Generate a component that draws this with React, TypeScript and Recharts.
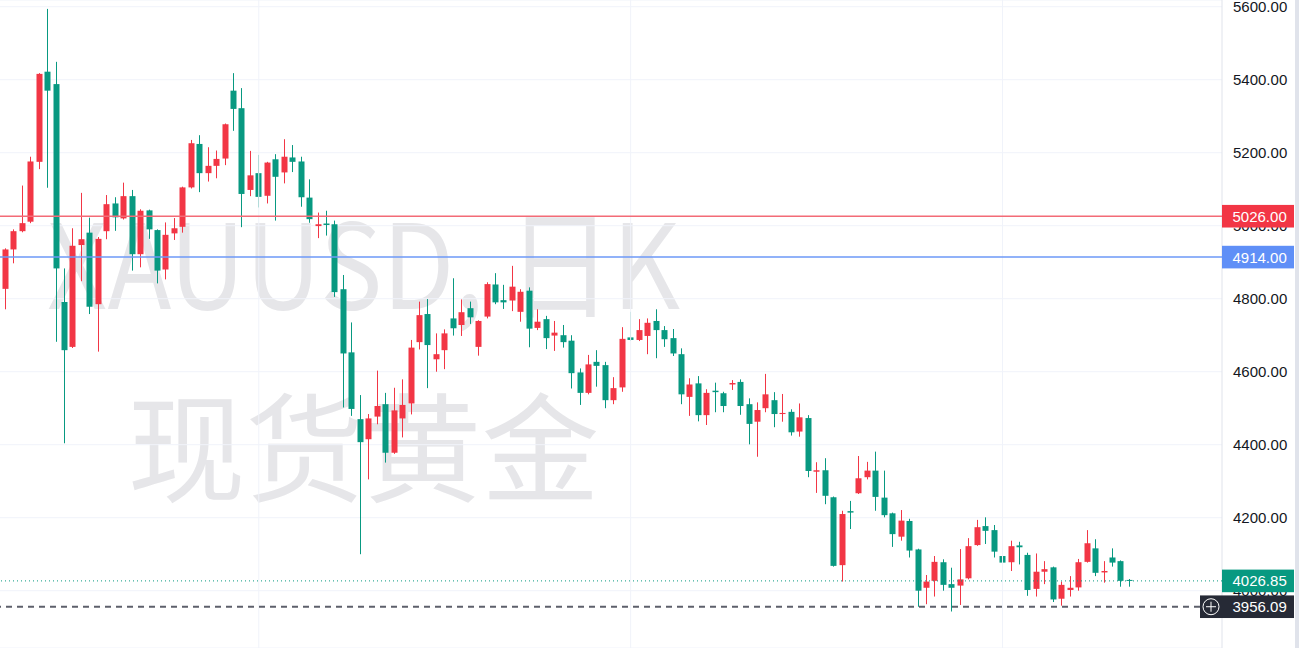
import React from 'react';
import { ComposedChart, Bar, XAxis, YAxis, CartesianGrid, ReferenceLine } from 'recharts';

// Daily candles, XAUUSD (现货黄金), oldest → newest
const OPEN = [
  4827, 4935, 4985, 5011, 5175, 5422, 5388, 4791, 4668, 4947,
  4981, 4785, 4985, 5061, 5020, 5081, 4922, 5042, 4988, 4880,
  4979, 4997, 5105, 5224, 5144, 5164, 5184, 5370, 5322, 5098,
  5144, 5082, 5182, 5146, 5187, 5176, 5077, 4999, 5006, 5004,
  4826, 4653, 4470, 4415, 4477, 4511, 4378, 4472, 4513, 4681,
  4758, 4634, 4659, 4746, 4728, 4774, 4668, 4751, 4839, 4796,
  4795, 4764, 4822, 4720, 4744, 4699, 4700, 4685, 4598, 4542,
  4627, 4618, 4522, 4557, 4694, 4687, 4698, 4739, 4714, 4692,
  4648, 4531, 4568, 4481, 4548, 4541, 4565, 4572, 4511, 4463,
  4500, 4522, 4484, 4490, 4436, 4473, 4326, 4330, 4256, 4070,
  4218, 4267, 4311, 4329, 4255, 4212, 4148, 4191, 4113, 4008,
  4027, 4078, 4018, 4014, 4034, 4125, 4177, 4166, 4095, 4078,
  4124, 4098, 4005, 4052, 4064, 3978, 4002, 4009, 4079, 4116,
  4050, 4091, 4081, 4029.5,
];
const HIGH = [
  4938, 4990, 5110, 5189, 5418, 5594, 5449, 4883, 4993, 5090,
  5022, 4969, 5084, 5078, 5118, 5098, 5045, 5044, 4990, 5009,
  5021, 5107, 5235, 5248, 5215, 5206, 5280, 5418, 5377, 5205,
  5194, 5175, 5196, 5237, 5221, 5189, 5127, 5036, 5041, 5014,
  4865, 4735, 4536, 4484, 4603, 4542, 4556, 4579, 4687, 4792,
  4799, 4705, 4716, 4856, 4798, 4792, 4741, 4845, 4870, 4838,
  4890, 4826, 4831, 4771, 4753, 4739, 4728, 4700, 4609, 4646,
  4659, 4627, 4585, 4722, 4764, 4744, 4746, 4771, 4725, 4717,
  4664, 4582, 4588, 4552, 4570, 4545, 4577, 4579, 4527, 4516,
  4594, 4544, 4539, 4497, 4513, 4481, 4352, 4363, 4258, 4219,
  4246, 4369, 4353, 4381, 4329, 4214, 4221, 4197, 4115, 4043,
  4095, 4086, 4063, 4114, 4144, 4194, 4201, 4180, 4131, 4137,
  4134, 4104, 4102, 4081, 4066, 4025, 4040, 4087, 4166, 4141,
  4081, 4116, 4083, 4032,
];
const LOW = [
  4771, 4897, 4982, 5007, 5155, 5104, 4682, 4404, 4665, 4848,
  4758, 4655, 4963, 4986, 5017, 4877, 4886, 4964, 4842, 4853,
  4961, 4981, 5102, 5092, 5121, 5130, 5166, 5260, 4996, 5081,
  5050, 5061, 5014, 5116, 5147, 5052, 5008, 4966, 4973, 4805,
  4502, 4479, 4100, 4305, 4456, 4351, 4375, 4420, 4483, 4661,
  4555, 4600, 4607, 4699, 4698, 4731, 4644, 4746, 4785, 4772,
  4766, 4737, 4667, 4714, 4662, 4657, 4666, 4554, 4509, 4538,
  4559, 4500, 4511, 4545, 4684, 4684, 4648, 4637, 4668, 4643,
  4511, 4479, 4464, 4454, 4489, 4489, 4550, 4482, 4401, 4367,
  4489, 4448, 4463, 4425, 4422, 4311, 4268, 4237, 4066, 4025,
  4169, 4265, 4305, 4219, 4201, 4120, 4137, 4091, 3956.09, 3963,
  3984, 4000, 3943, 3961, 4031, 4123, 4128, 4091, 4022, 4054,
  4072, 3986, 3984, 4018, 3969, 3959, 3984, 4000, 4077, 4040,
  4022, 4066, 4011, 4011,
];
const CLOSE = [
  4935, 4985, 5007, 5176, 5416, 5370, 4883, 4659, 4945, 4963,
  4778, 4964, 5059, 5023, 5081, 4922, 5041, 4990, 4877, 4975,
  4993, 5105, 5226, 5144, 5164, 5183, 5278, 5320, 5087, 5138,
  5079, 5173, 5134, 5189, 5175, 5078, 5018, 5004, 5002, 4818,
  4650, 4498, 4407, 4472, 4506, 4378, 4494, 4509, 4666, 4755,
  4673, 4648, 4705, 4719, 4763, 4749, 4739, 4840, 4790, 4790,
  4833, 4819, 4718, 4737, 4692, 4707, 4681, 4596, 4542, 4620,
  4616, 4522, 4555, 4690, 4687, 4714, 4734, 4714, 4689, 4650,
  4538, 4565, 4481, 4542, 4544, 4506, 4569, 4506, 4457, 4495,
  4538, 4484, 4487, 4434, 4475, 4328, 4330, 4260, 4068, 4210,
  4214, 4308, 4329, 4257, 4207, 4155, 4192, 4110, 4000, 4025,
  4079, 4016, 4008, 4031, 4122, 4174, 4164, 4107, 4077, 4122,
  4119, 4002, 4052, 4059, 3976, 4016, 4008, 4078, 4130, 4049,
  4054, 4077, 4027, 4026.85,
];

const EMPTY_SLOTS = 10; // right-hand blank space
const Y_TICKS = [4000, 4200, 4400, 4600, 4800, 5000, 5200, 5400, 5600];
const Y_DOMAIN: [number, number] = [3843, 5618.4];
const MONTH_MARKS = [30, 74, 118];

const LINE_RED = 5026;
const LINE_BLUE = 4914;
const LAST_PRICE = 4026.85;
const LOW_MARK = 3956.09;

const WATERMARK_1 = 'XAUUSD, 日K';
const WATERMARK_2 = '现货黄金';

const UP = '#f23645';
const DOWN = '#089981';

const data = [
  ...OPEN.map((o, i) => ({
    i,
    open: o,
    high: HIGH[i],
    low: LOW[i],
    close: CLOSE[i],
    range: [LOW[i], HIGH[i]],
  })),
  ...Array.from({ length: EMPTY_SLOTS }, (_, k) => ({ i: OPEN.length + k })),
];

const FONT = '"Liberation Sans", Arial, sans-serif';
const CHART_W = 1295;
const CHART_H = 648;
const AXIS_W = 73;
const MARGIN = { top: 0, right: 0, bottom: 0, left: 0 };

const Candle = (props: any) => {
  const { x, width, y, height, payload } = props;
  if (!payload || payload.range == null || !(height > 0)) return null;
  const { open, close, high, low } = payload;
  const color = close >= open ? UP : DOWN;
  const k = height / (high - low);
  const yOf = (v: number) => y + (high - v) * k;
  const cx = Math.round(x + width / 2 - 0.5);
  const top = yOf(Math.max(open, close));
  const bot = yOf(Math.min(open, close));
  return (
    <g>
      <rect x={cx} y={y} width={1} height={height} fill={color} />
      <rect x={cx - 2.5} y={top} width={6} height={Math.max(1, bot - top)} fill={color} />
    </g>
  );
};

const Tick = (props: any) => {
  const { y, payload } = props;
  return (
    <text x={1233} y={y + 5.5} fill="#131722" fontSize={15} fontFamily={FONT} textAnchor="start">
      {Number(payload.value).toFixed(2)}
    </text>
  );
};

const PriceTag = (props: any) => {
  const { viewBox, text, bg, icon } = props;
  if (!viewBox) return null;
  const x = viewBox.x + viewBox.width;
  const y = viewBox.y;
  return (
    <g>
      {icon && (
        <g>
          <rect x={x - 22} y={y - 11.3} width={22} height={22.6} fill={bg} />
          <circle cx={x - 11} cy={y} r={8} fill="none" stroke="#ffffff" strokeWidth={1} />
          <line x1={x - 16} y1={y} x2={x - 6} y2={y} stroke="#ffffff" strokeWidth={1} />
          <line x1={x - 11} y1={y - 5} x2={x - 11} y2={y + 5} stroke="#ffffff" strokeWidth={1} />
        </g>
      )}
      <rect x={x} y={y - 11.3} width={72} height={22.6} fill={bg} />
      <text x={x + 10.5} y={y + 5.5} fill="#ffffff" fontSize={15} fontFamily={FONT}>
        {text}
      </text>
    </g>
  );
};

export default function App() {
  return (
    <div style={{ position: 'absolute', left: 0, top: 0, width: 1299, height: 648, background: '#ffffff', overflow: 'hidden' }}>
      <svg width={1299} height={648} style={{ position: 'absolute', left: 0, top: 0 }}>
        <text x={363.5} y={308.5} textAnchor="middle" fontSize={118} textLength={633} lengthAdjust="spacingAndGlyphs"
          fontFamily='"Noto Sans CJK SC", sans-serif' fill="#e6e6e9">
          {WATERMARK_1}
        </text>
        <text x={363.5} y={493} textAnchor="middle" fontSize={118} fontFamily='"Noto Sans CJK SC", sans-serif' fill="#e6e6e9">
          {WATERMARK_2}
        </text>
      </svg>

      {/* base layer: grid, candles, price axis */}
      <div style={{ position: 'absolute', left: 0, top: 0 }}>
        <ComposedChart width={CHART_W} height={CHART_H} data={data} margin={MARGIN}>
          <CartesianGrid horizontal vertical={false} stroke="#f0f3fa" strokeWidth={1} />
          {MONTH_MARKS.map((m) => (
            <ReferenceLine key={m} x={m} stroke="#f0f3fa" strokeWidth={1} />
          ))}
          <XAxis dataKey="i" type="category" hide padding={{ left: 1, right: 4 }} />
          <YAxis
            orientation="right"
            width={AXIS_W}
            domain={Y_DOMAIN}
            allowDataOverflow
            ticks={Y_TICKS}
            interval={0}
            axisLine={{ stroke: '#e0e3eb' }}
            tickLine={false}
            tick={<Tick />}
          />
          <Bar dataKey="range" isAnimationActive={false} shape={<Candle />} />
        </ComposedChart>
      </div>

      {/* overlay layer: price lines and their tags, same scales */}
      <div style={{ position: 'absolute', left: 0, top: 0 }}>
        <ComposedChart width={CHART_W} height={CHART_H} data={data} margin={MARGIN}>
          <XAxis dataKey="i" type="category" hide padding={{ left: 1, right: 4 }} />
          <YAxis
            orientation="right"
            width={AXIS_W}
            domain={Y_DOMAIN}
            allowDataOverflow
            ticks={Y_TICKS}
            axisLine={false}
            tickLine={false}
            tick={false}
          />
          <ReferenceLine y={LINE_RED} stroke="#f36b77" strokeWidth={1.5}
            label={<PriceTag text={LINE_RED.toFixed(2)} bg="#f23645" />} />
          <ReferenceLine y={LINE_BLUE} stroke="#6d99f7" strokeWidth={1.5}
            label={<PriceTag text={LINE_BLUE.toFixed(2)} bg="#5f8ff7" />} />
          <ReferenceLine y={LAST_PRICE} stroke="#089981" strokeWidth={1} strokeDasharray="1 3"
            label={<PriceTag text={LAST_PRICE.toFixed(2)} bg="#089981" />} />
          <ReferenceLine y={LOW_MARK} stroke="#5d606b" strokeWidth={2} strokeDasharray="6 5"
            label={<PriceTag text={LOW_MARK.toFixed(2)} bg="#262a36" icon />} />
        </ComposedChart>
      </div>

      <div style={{ position: 'absolute', left: 1295, top: 0, width: 4, height: 648, background: '#e0e3eb' }} />
    </div>
  );
}
